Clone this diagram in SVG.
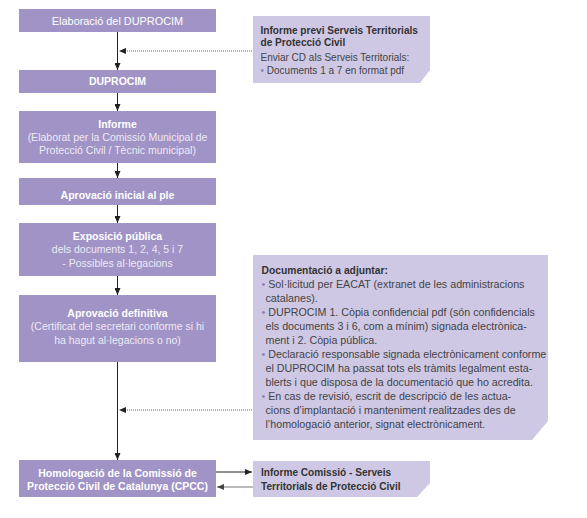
<svg xmlns="http://www.w3.org/2000/svg" width="587" height="518" viewBox="0 0 587 518">
<style>
.main{fill:#a094c6}
.side{fill:#cec8e4}
.h{font-family:"Liberation Sans",Arial,sans-serif;font-size:10.5px;font-weight:bold;fill:#ffffff;text-anchor:middle}
.n{font-family:"Liberation Sans",Arial,sans-serif;font-size:10.9px;fill:#ffffff;text-anchor:middle}
.s{font-family:"Liberation Sans",Arial,sans-serif;font-size:10.5px;fill:#ece9f5;text-anchor:middle}
.sb{font-family:"Liberation Sans",Arial,sans-serif;font-size:10.1px;font-weight:bold;fill:#333333}
.st{font-family:"Liberation Sans",Arial,sans-serif;font-size:10px;fill:#444444}
.sb2{font-family:"Liberation Sans",Arial,sans-serif;font-size:10.3px;font-weight:bold;fill:#333333}
.st2{font-family:"Liberation Sans",Arial,sans-serif;font-size:10.7px;fill:#444444}
.bul{fill:#8f84bb}
.ln{stroke:#222222;stroke-width:1;fill:none}
.dot{stroke:#666666;stroke-width:1;stroke-dasharray:1 1;fill:none}
</style>
<defs>
<marker id="ah" markerWidth="8" markerHeight="6" refX="7" refY="3" orient="auto" markerUnits="userSpaceOnUse">
<path d="M0,0 L7,3 L0,6 Z" fill="#222222"/>
</marker>
<marker id="ahg" markerWidth="8" markerHeight="6" refX="7" refY="3" orient="auto" markerUnits="userSpaceOnUse">
<path d="M0,0 L7,3 L0,6 Z" fill="#444444"/>
</marker>
</defs>

<g id="connectors">
<line class="ln" x1="117.5" y1="32" x2="117.5" y2="70" marker-end="url(#ah)"/>
<line class="dot" x1="252" y1="51" x2="126" y2="51"/>
<path d="M126,48 L119,51 L126,54 Z" fill="#222222"/>
<line class="ln" x1="117.5" y1="93" x2="117.5" y2="111" marker-end="url(#ah)"/>
<line class="ln" x1="117.5" y1="163" x2="117.5" y2="178" marker-end="url(#ah)"/>
<line class="ln" x1="117.5" y1="205" x2="117.5" y2="223" marker-end="url(#ah)"/>
<line class="ln" x1="117.5" y1="276" x2="117.5" y2="295" marker-end="url(#ah)"/>
<line class="ln" x1="117.5" y1="362" x2="117.5" y2="460" marker-end="url(#ah)"/>
<line class="dot" x1="252" y1="410" x2="126" y2="410"/>
<path d="M126,407 L119,410 L126,413 Z" fill="#222222"/>
<line class="ln" x1="216" y1="472" x2="252" y2="472" marker-end="url(#ah)"/>
<line x1="253" y1="487" x2="217" y2="487" stroke="#777777" stroke-width="1.2" marker-end="url(#ahg)"/>
</g>

<g id="n1">
<rect class="main" x="19" y="9" width="197" height="23"/>
<text class="n" x="117.5" y="24.5">Elaboració del DUPROCIM</text>
</g>
<g id="n2">
<rect class="main" x="19" y="70" width="197" height="23"/>
<text class="h" x="117.5" y="85">DUPROCIM</text>
</g>
<g id="n3">
<rect class="main" x="19" y="111" width="197" height="52"/>
<text class="h" x="117.5" y="127.5">Informe</text>
<text class="s" x="117.5" y="140.5">(Elaborat per la Comissió Municipal de</text>
<text class="s" x="117.5" y="154">Protecció Civil / Tècnic municipal)</text>
</g>
<g id="n4">
<rect class="main" x="19" y="178" width="197" height="27"/>
<text class="h" x="117.5" y="198.5">Aprovació inicial al ple</text>
</g>
<g id="n5">
<rect class="main" x="19" y="223" width="197" height="53"/>
<text class="h" x="117.5" y="239.5">Exposició pública</text>
<text class="s" x="117.5" y="253">dels documents 1, 2, 4, 5 i 7</text>
<text class="s" x="117.5" y="266.5">- Possibles al·legacions</text>
</g>
<g id="n6">
<rect class="main" x="19" y="295" width="197" height="67"/>
<text class="h" x="117.5" y="316.5">Aprovació definitiva</text>
<text class="s" x="117.5" y="330">(Certificat del secretari conforme si hi</text>
<text class="s" x="117.5" y="343.5">ha hagut al·legacions o no)</text>
</g>
<g id="n7">
<rect class="main" x="19" y="460" width="197" height="37"/>
<text class="h" x="117.5" y="476.5">Homologació de la Comissió de</text>
<text class="h" x="117.5" y="490">Protecció Civil de Catalunya (CPCC)</text>
</g>

<g id="side1">
<path class="side" d="M253,16 H430 V70 L420,83 H253 Z"/>
<text class="sb" x="260.5" y="33.5">Informe previ Serveis Territorials</text>
<text class="sb" x="260.5" y="46">de Protecció Civil</text>
<text class="st" x="260.5" y="60.5">Enviar CD als Serveis Territorials:</text>
<text class="st" x="260.5" y="74"><tspan class="bul">•</tspan> Documents 1 a 7 en format pdf</text>
</g>

<g id="side2">
<path class="side" d="M253,255 H548 V421 L532,440 H253 Z"/>
<text class="sb2" x="261.5" y="273.8">Documentació a adjuntar:</text>
<text class="st2" x="261.5" y="287.8"><tspan class="bul">•</tspan> Sol·licitud per EACAT (extranet de les administracions</text>
<text class="st2" x="265.5" y="301.8">catalanes).</text>
<text class="st2" x="261.5" y="315.8"><tspan class="bul">•</tspan> DUPROCIM 1. Còpia confidencial pdf (són confidencials</text>
<text class="st2" x="265.5" y="329.8">els documents 3 i 6, com a mínim) signada electrònica-</text>
<text class="st2" x="265.5" y="343.8">ment i 2. Còpia pública.</text>
<text class="st2" x="261.5" y="357.8"><tspan class="bul">•</tspan> Declaració responsable signada electrònicament conforme</text>
<text class="st2" x="265.5" y="371.8">el DUPROCIM ha passat tots els tràmits legalment esta-</text>
<text class="st2" x="265.5" y="385.8">blerts i que disposa de la documentació que ho acredita.</text>
<text class="st2" x="261.5" y="399.8"><tspan class="bul">•</tspan> En cas de revisió, escrit de descripció de les actua-</text>
<text class="st2" x="265.5" y="413.8">cions d’implantació i manteniment realitzades des de</text>
<text class="st2" x="265.5" y="427.8">l’homologació anterior, signat electrònicament.</text>
</g>

<g id="side3">
<path class="side" d="M253,461 H430 V483 L417,497 H253 Z"/>
<text class="sb" x="261" y="476.3">Informe Comissió - Serveis</text>
<text class="sb" x="261" y="489.8">Territorials de Protecció Civil</text>
</g>
</svg>
